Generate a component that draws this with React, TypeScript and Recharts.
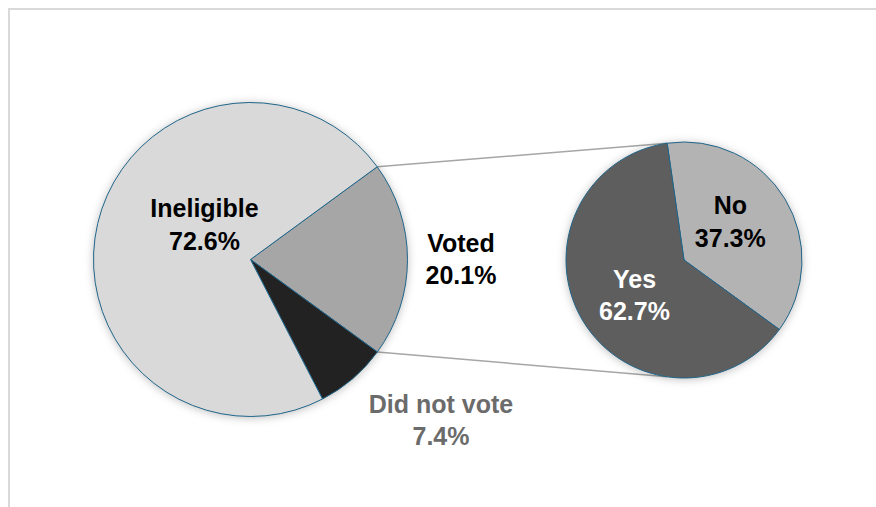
import { PieChart, Pie, Cell } from 'recharts';

// main pie: who voted
const mainNames = ['Voted', 'Did not vote', 'Ineligible'];
const mainValues = [20.1, 7.4, 72.6];
const mainColors = ['#a6a6a6', '#222222', '#d9d9d9'];

// breakdown of the "Voted" slice
const splitNames = ['No', 'Yes'];
const splitValues = [37.3, 62.7];
const splitColors = ['#b3b3b3', '#5e5e5e'];

const mainData = mainNames.map((name, i) => ({ name, value: mainValues[i] }));
const splitData = splitNames.map((name, i) => ({ name, value: splitValues[i] }));

const labelColors: Record<string, string> = {
    Voted: '#000000',
    'Did not vote': '#6b6b6b',
    Ineligible: '#000000',
    No: '#000000',
    Yes: '#ffffff',
};

// label anchor relative to the pie centre (x centre, first baseline)
const labelOffsets: Record<string, [number, number]> = {
    Voted: [210.5, -8],
    'Did not vote': [190.5, 153],
    Ineligible: [-46, -42.5],
    No: [46.3, -46],
    Yes: [-49.5, 27.5],
};

const W = 876;
const H = 507;
const LEFT = { cx: 250.5, cy: 259.5, r: 157, start: 36.2 };
const RIGHT = { cx: 684, cy: 260, r: 118, start: 98.2 };
const OUTLINE = '#1f6589';
const FONT = '"Liberation Sans", Arial, sans-serif';

const rad = (a: number) => (a * Math.PI) / 180;
const pt = (c: { cx: number; cy: number; r: number }, a: number) => ({
    x: c.cx + c.r * Math.cos(rad(a)),
    y: c.cy - c.r * Math.sin(rad(a)),
});

const renderLabel = (props: any) => {
    const { cx, cy, payload, value } = props;
    const name = payload?.name ?? props.name;
    const [dx, dy] = labelOffsets[name] || [0, 0];
    const x = cx + dx;
    return (
        <text
            x={x}
            y={cy + dy}
            textAnchor="middle"
            fill={labelColors[name]}
            fontSize={25}
            fontWeight={700}
            fontFamily={FONT}
        >
            <tspan x={x}>{name}</tspan>
            <tspan x={x} dy={32.5}>{Number(value).toFixed(1)}%</tspan>
        </text>
    );
};

export default function App() {
    const total = mainValues.reduce((s, v) => s + v, 0);
    const votedSweep = (mainValues[0] / total) * 360;
    // connector lines run from the edges of the "Voted" slice to top/bottom of second pie
    const a1 = pt(LEFT, LEFT.start);
    const a2 = pt(LEFT, LEFT.start - votedSweep);
    const b1 = pt(RIGHT, RIGHT.start);
    const b2 = pt(RIGHT, -RIGHT.start);

    return (
        <div style={{ position: 'absolute', left: 0, top: 0, width: W, height: H, overflow: 'hidden', background: '#fff' }}>
            <style>{`.shadowed g:has(> .recharts-pie-sector) { filter: drop-shadow(0 1px 4px rgba(0,0,0,0.25)); }`}</style>
            <div style={{ position: 'absolute', left: 8, top: 8, width: 900, height: 600, border: '2px solid #d9d9d9' }} />
            <svg width={W} height={H} style={{ position: 'absolute', left: 0, top: 0 }}>
                <line x1={a1.x} y1={a1.y} x2={b1.x} y2={b1.y} stroke="#a6a6a6" strokeWidth={1.5} />
                <line x1={a2.x} y1={a2.y} x2={b2.x} y2={b2.y} stroke="#a6a6a6" strokeWidth={1.5} />
            </svg>
            <div className="shadowed" style={{ position: 'absolute', left: 0, top: 0 }}>
                <PieChart width={W} height={H} margin={{ top: 0, right: 0, bottom: 0, left: 0 }}>
                    <Pie
                        data={mainData}
                        dataKey="value"
                        nameKey="name"
                        cx={LEFT.cx}
                        cy={LEFT.cy}
                        outerRadius={LEFT.r}
                        startAngle={LEFT.start}
                        endAngle={LEFT.start - 360}
                        stroke={OUTLINE}
                        strokeWidth={1}
                        label={renderLabel}
                        labelLine={false}
                        isAnimationActive={false}
                    >
                        {mainData.map((d, i) => (
                            <Cell key={d.name} fill={mainColors[i]} stroke={OUTLINE} />
                        ))}
                    </Pie>
                    <Pie
                        data={splitData}
                        dataKey="value"
                        nameKey="name"
                        cx={RIGHT.cx}
                        cy={RIGHT.cy}
                        outerRadius={RIGHT.r}
                        startAngle={RIGHT.start}
                        endAngle={RIGHT.start - 360}
                        stroke={OUTLINE}
                        strokeWidth={1}
                        label={renderLabel}
                        labelLine={false}
                        isAnimationActive={false}
                    >
                        {splitData.map((d, i) => (
                            <Cell key={d.name} fill={splitColors[i]} stroke={OUTLINE} />
                        ))}
                    </Pie>
                </PieChart>
            </div>
        </div>
    );
}
